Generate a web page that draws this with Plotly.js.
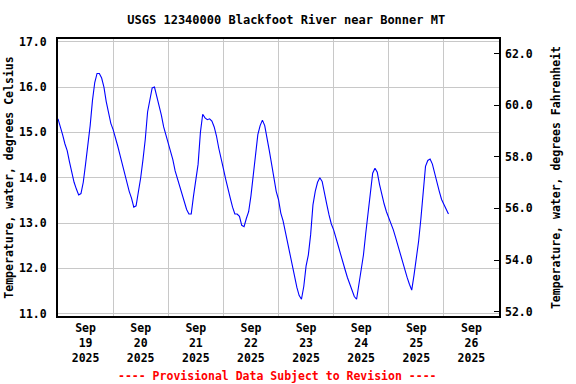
<!DOCTYPE html>
<html>
<head>
<meta charset="utf-8">
<script src="https://cdn.plot.ly/plotly-3.0.1.min.js"></script>
<style>html,body{margin:0;padding:0;background:#fff;}#chart{width:576px;height:384px;}</style>
</head>
<body>
<div id="chart"></div>
<script>
// Hourly water temperature (deg C) starting 2025-09-19 00:00
const startTime = '2025-09-19T00:00:00Z';
const tempC = [
  15.3, 15.15, 14.95, 14.75, 14.6, 14.35, 14.1, 13.9, 13.75, 13.62, 13.65, 13.9,
  14.3, 14.7, 15.15, 15.7, 16.1, 16.3, 16.3, 16.2, 16.0, 15.68, 15.42, 15.2,
  15.06, 14.9, 14.7, 14.5, 14.3, 14.1, 13.88, 13.7, 13.55, 13.35, 13.38, 13.65,
  14.0, 14.4, 14.85, 15.45, 15.76, 15.98, 16.0, 15.8, 15.62, 15.38, 15.12, 14.95,
  14.75, 14.6, 14.4, 14.15, 13.97, 13.78, 13.63, 13.47, 13.3, 13.2, 13.2, 13.6,
  13.92, 14.3, 15.0, 15.4, 15.32, 15.28, 15.3, 15.25, 15.12, 14.92, 14.65, 14.45,
  14.2, 13.97, 13.73, 13.55, 13.35, 13.2, 13.2, 13.15, 12.95, 12.92, 13.1, 13.25,
  13.6, 14.05, 14.4, 14.95, 15.15, 15.27, 15.15, 14.9, 14.6, 14.3, 13.95, 13.7,
  13.52, 13.22, 13.05, 12.8, 12.5, 12.3, 12.0, 11.78, 11.58, 11.4, 11.32, 11.6,
  12.05, 12.3, 12.75, 13.4, 13.7, 13.9, 14.0, 13.92, 13.7, 13.42, 13.18, 12.98,
  12.85, 12.7, 12.5, 12.32, 12.12, 11.97, 11.8, 11.65, 11.5, 11.38, 11.32, 11.65,
  11.95, 12.3, 12.78, 13.25, 13.75, 14.1, 14.21, 14.12, 13.85, 13.62, 13.42, 13.25,
  13.12, 12.98, 12.85, 12.68, 12.5, 12.32, 12.1, 11.95, 11.8, 11.65, 11.52, 11.85,
  12.22, 12.6, 13.1, 13.78, 14.25, 14.38, 14.41, 14.3, 14.1, 13.85, 13.7, 13.52,
  13.4, 13.32, 13.2
];
const tickMonth = 'Sep';
const tickYear = '2025';
const tickDays = ['19', '20', '21', '22', '23', '24', '25', '26'];
const tickNoons = ['2025-09-19 12:00', '2025-09-20 12:00', '2025-09-21 12:00', '2025-09-22 12:00',
                   '2025-09-23 12:00', '2025-09-24 12:00', '2025-09-25 12:00', '2025-09-26 12:00'];

const t0 = Date.parse(startTime);
const times = tempC.map((_, i) => {
  const d = new Date(t0 + i * 3600000);
  const p = n => String(n).padStart(2, '0');
  return d.getUTCFullYear() + '-' + p(d.getUTCMonth() + 1) + '-' + p(d.getUTCDate()) + ' ' + p(d.getUTCHours()) + ':00';
});

const FONT = 'DejaVu Sans Mono, Liberation Mono, monospace';
const tickFont = {family: FONT, size: 11.5, color: '#000', weight: 'bold'};
const grid = '#c8c8c8';

const data = [{
  x: times, y: tempC, type: 'scatter', mode: 'lines',
  line: {color: '#0000ff', width: 1.1}, hoverinfo: 'skip', showlegend: false
}, {
  // empty trace so the Fahrenheit axis is drawn
  x: [], y: [], type: 'scatter', mode: 'lines', yaxis: 'y2',
  hoverinfo: 'skip', showlegend: false
}];

const layout = {
  width: 576, height: 384,
  margin: {l: 58, r: 77, t: 39, b: 68, pad: 0},
  paper_bgcolor: '#fff', plot_bgcolor: '#fff',
  showlegend: false,
  title: {text: 'USGS 12340000 Blackfoot River near Bonner MT',
          font: {family: FONT, size: 12, color: '#000', weight: 'bold'},
          x: 0.497, xanchor: 'center', y: 0.948, yanchor: 'middle', xref: 'container', yref: 'container'},
  xaxis: {
    type: 'date', range: ['2025-09-19 00:00', '2025-09-27 00:00'],
    tickmode: 'array', tickvals: tickNoons,
    ticktext: tickDays.map(d => tickMonth + '<br>' + d + '<br>' + tickYear),
    ticks: '', showgrid: false, zeroline: false,
    showline: true, linecolor: '#000', linewidth: 2, mirror: true,
    tickfont: tickFont,
    minor: {tickmode: 'linear', tick0: '2025-09-19 00:00', dtick: 86400000,
            showgrid: true, gridcolor: grid, gridwidth: 1, ticks: ''}
  },
  yaxis: {
    range: [10.95, 17.06], tickmode: 'linear', tick0: 11, dtick: 1, tickformat: '.1f',
    showgrid: true, gridcolor: grid, gridwidth: 1, zeroline: false,
    showline: true, linecolor: '#000', linewidth: 2, mirror: true,
    ticks: '', ticklabelstandoff: 7, tickfont: tickFont,
    title: {text: 'Temperature, water, degrees Celsius', font: tickFont, standoff: 3}
  },
  yaxis2: {
    overlaying: 'y', side: 'right', anchor: 'x',
    range: [51.83, 62.57], tickmode: 'linear', tick0: 52, dtick: 2, tickformat: '.1f',
    showgrid: false, zeroline: false, showline: false,
    ticks: 'inside', ticklen: 5, tickcolor: '#000', tickwidth: 1,
    ticklabelstandoff: 5, tickfont: tickFont,
    title: {text: 'Temperature, water, degrees Fahrenheit', font: tickFont, standoff: 20}
  },
  annotations: [{
    text: '---- Provisional Data Subject to Revision ----',
    xref: 'paper', yref: 'paper', x: 0.497, y: -0.215, xanchor: 'center', yanchor: 'middle',
    showarrow: false, font: {family: FONT, size: 11.5, color: '#ff0000', weight: 'bold'}
  }]
};

Plotly.newPlot('chart', data, layout, {staticPlot: true, displayModeBar: false});
</script>
</body>
</html>
